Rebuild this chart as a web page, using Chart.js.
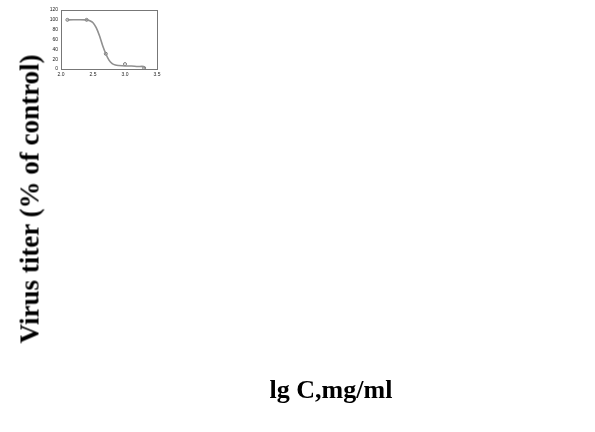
<!DOCTYPE html>
<html>
<head>
<meta charset="utf-8">
<script src="https://cdn.jsdelivr.net/npm/chart.js@4/dist/chart.umd.min.js"></script>
<style>
  html, body { margin: 0; padding: 0; background: #fff; }
  #wrap { position: relative; width: 595px; height: 432px; }
  #c { position: absolute; left: 0; top: 0; }
  .ttl { position: absolute; font-family: "Liberation Serif", "Times New Roman", serif; font-weight: bold; color: #000; white-space: nowrap; }
  #ytitle { left: 30px; top: 199px; font-size: 27px; transform: translate(-50%, -50%) rotate(-90deg); }
  #xtitle { left: 331px; top: 390px; font-size: 26px; transform: translate(-50%, -50%); }
</style>
</head>
<body>
<div id="wrap">
  <canvas id="c" width="595" height="432"></canvas>
  <div class="ttl" id="ytitle">Virus titer (% of control)</div>
  <div class="ttl" id="xtitle">lg C,mg/ml</div>
</div>
<script>
// measured points
var pointX = [2.1, 2.4, 2.7, 3.0, 3.3];
var pointY = [100, 100, 31, 10, 2];

// fitted curve
var curveX = [2.1, 2.4, 2.45, 2.5, 2.55, 2.6, 2.65, 2.7, 2.75, 2.8, 2.85, 2.9, 3.0, 3.1, 3.2, 3.29, 3.32];
var curveY = [100, 100, 98, 94, 84, 68, 48, 31, 18, 11, 8, 7, 6, 6, 5, 5, 0];

var xTicks = [2.0, 2.5, 3.0, 3.5];
var yTicks = [0, 20, 40, 60, 80, 100, 120];

function toXY(xs, ys) {
    return xs.map(function(x, i) { return {x: x, y: ys[i]}; });
}

var frame = {
    id: 'frame',
    afterDraw: function(chart) {
        var a = chart.chartArea, ctx = chart.ctx;
        ctx.save();
        ctx.strokeStyle = '#777';
        ctx.lineWidth = 1;
        ctx.strokeRect(a.left + 0.5, a.top + 0.5, a.right - a.left, a.bottom - a.top);
        ctx.restore();
    }
};

new Chart(document.getElementById('c'), {
    type: 'scatter',
    data: {
        datasets: [{
            type: 'line',
            data: toXY(curveX, curveY),
            borderColor: '#909090',
            borderWidth: 1.6,
            pointRadius: 0,
            tension: 0.3,
            fill: false
        }, {
            data: toXY(pointX, pointY),
            pointStyle: 'circle',
            pointRadius: 1.5,
            borderColor: '#777',
            backgroundColor: '#fff',
            borderWidth: 1
        }]
    },
    options: {
        responsive: false,
        animation: false,
        layout: { padding: { left: 47, top: 10, right: 438, bottom: 355 } },
        plugins: { legend: { display: false }, tooltip: { enabled: false } },
        scales: {
            x: {
                type: 'linear', min: 2.0, max: 3.5,
                afterBuildTicks: function(s) { s.ticks = xTicks.map(function(v) { return {value: v}; }); },
                afterFit: function(s) { s.height = 8; },
                grid: { display: false, drawTicks: true, tickLength: 2 },
                border: { color: '#555' },
                ticks: { font: { size: 5, family: 'Liberation Sans' }, color: '#222', padding: 1,
                         callback: function(v) { return v.toFixed(1); } }
            },
            y: {
                min: 0, max: 120,
                afterBuildTicks: function(s) { s.ticks = yTicks.map(function(v) { return {value: v}; }); },
                afterFit: function(s) { s.width = 14; },
                grid: { display: false, drawTicks: true, tickLength: 2 },
                border: { color: '#555' },
                ticks: { font: { size: 5, family: 'Liberation Sans' }, color: '#222', padding: 1 }
            }
        }
    },
    plugins: [frame]
});
</script>
</body>
</html>
